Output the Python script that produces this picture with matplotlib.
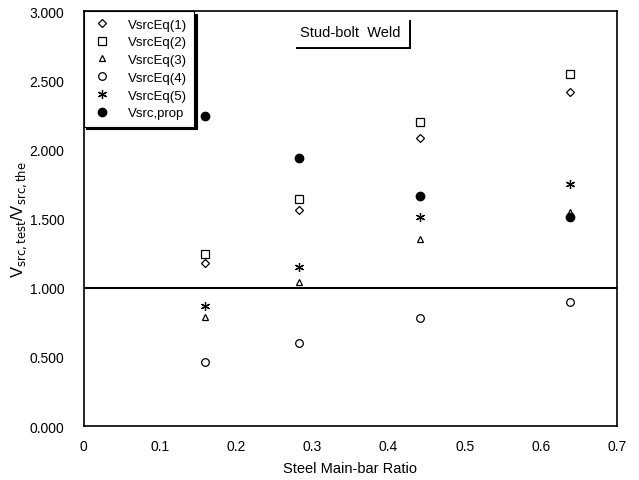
import matplotlib
matplotlib.use("Agg")
import matplotlib.pyplot as plt
import matplotlib.patheffects as pe
import numpy as np

plt.rcParams.update({
    "font.family": ["Liberation Sans", "DejaVu Sans"],
    "font.size": 10,
})

# steel main-bar ratio
ratio = [0.159, 0.283, 0.441, 0.638]

eq1 = [1.18, 1.56, 2.08, 2.415]
eq2 = [1.245, 1.645, 2.20, 2.545]
eq3 = [0.79, 1.04, 1.35, 1.55]
eq4 = [0.46, 0.60, 0.78, 0.90]
eq5 = [0.87, 1.15, 1.51, 1.75]
prop = [2.24, 1.935, 1.665, 1.51]

labels = ["VsrcEq(1)", "VsrcEq(2)", "VsrcEq(3)", "VsrcEq(4)", "VsrcEq(5)", "Vsrc,prop"]
xticks = [0, 0.1, 0.2, 0.3, 0.4, 0.5, 0.6, 0.7]
yticks = [0, 0.5, 1.0, 1.5, 2.0, 2.5, 3.0]

fig = plt.figure(figsize=(6.39, 4.81), dpi=100)
ax = fig.add_axes([0.131, 0.112, 0.835, 0.863])

hollow = dict(mfc="white", mec="black", mew=0.9, ls="none")
ax.plot(ratio, eq1, marker="D", ms=4.5, label=labels[0], **hollow)
ax.plot(ratio, eq2, marker="s", ms=5.5, label=labels[1], **hollow)
ax.plot(ratio, eq3, marker="^", ms=4.5, label=labels[2], **hollow)
ax.plot(ratio, eq4, marker="o", ms=5.5, label=labels[3], **hollow)
ax.plot(ratio, eq5, marker=(6, 2, 0), ms=6.5, color="black", mew=0.9, ls="none", label=labels[4])
ax.plot(ratio, prop, marker="o", ms=6, color="black", ls="none", label=labels[5])

ax.axhline(1.0, color="black", lw=1.5)

ax.set_xlim(0, 0.7)
ax.set_ylim(0, 3.0)
ax.set_xticks(xticks)
ax.set_xticklabels(["0"] + [f"{t:.1f}" for t in xticks[1:]])
ax.set_yticks(yticks)
ax.set_yticklabels([f"{t:.3f}" for t in yticks])
ax.tick_params(axis="x", length=0, pad=9)
ax.tick_params(axis="y", length=0, pad=14)
for s in ax.spines.values():
    s.set_linewidth(1.2)

ax.set_xlabel("Steel Main-bar Ratio", fontsize=10.5, labelpad=6)
ax.set_ylabel(r"V$_{\mathrm{src,test}}$/V$_{\mathrm{src,the}}$", fontsize=12, labelpad=0)

leg = ax.legend(loc="upper left", fontsize=9.5, frameon=True, fancybox=False,
                edgecolor="black", borderaxespad=0.0, handletextpad=1.1,
                labelspacing=0.42, borderpad=0.55, handlelength=1.7,
                shadow={"ox": 2, "oy": -2, "facecolor": "black", "edgecolor": "black", "alpha": 1})
leg.get_frame().set_linewidth(0.8)

t = ax.text(0.35, 2.85, "Stud-bolt  Weld", ha="center", va="center", fontsize=10.5,
            bbox=dict(boxstyle="square,pad=0.5", facecolor="white", edgecolor="white", lw=0.8))
t.get_bbox_patch().set_path_effects([
    pe.SimplePatchShadow(offset=(2, -2), shadow_rgbFace="black", alpha=1),
    pe.Normal(),
])

fig.savefig("out.png", dpi=100)
